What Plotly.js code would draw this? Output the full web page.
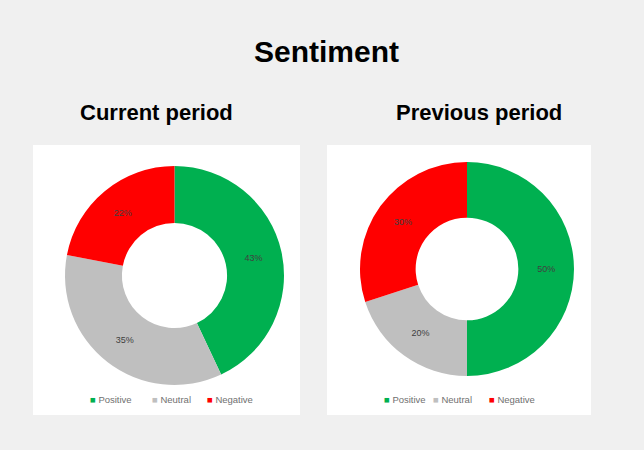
<!DOCTYPE html>
<html>
<head>
<meta charset="utf-8">
<script src="https://cdn.plot.ly/plotly-3.0.1.min.js"></script>
<style>html,body{margin:0;padding:0;background:#f0f0f0;}#chart{width:644px;height:450px;}</style>
</head>
<body>
<div id="chart"></div>
<script>
const labels = ["Positive", "Neutral", "Negative"];
const currentValues = [43, 35, 22];
const previousValues = [50, 20, 30];
const colors = ["#00b050", "#bfbfbf", "#ff0000"];
const mainTitle = "Sentiment";
const panelTitles = ["Current period", "Previous period"];

const W = 644, H = 450;
const px = x => x / W;
const py = y => 1 - y / H;
const FONT = "Liberation Sans, Arial, sans-serif";

function pieTrace(values, dom) {
  return {
    type: "pie",
    labels: labels,
    values: values,
    sort: false,
    direction: "clockwise",
    rotation: 0,
    hole: 0.48,
    marker: {colors: colors, line: {width: 0}},
    textinfo: "percent",
    textposition: "inside",
    insidetextorientation: "horizontal",
    textfont: {size: 9, color: "#404040", family: FONT},
    domain: dom,
    showlegend: false,
    hoverinfo: "label+percent"
  };
}

const data = [
  pieTrace(currentValues, {x: [px(65), px(284)], y: [py(385), py(166)]}),
  pieTrace(previousValues, {x: [px(360), px(574)], y: [py(376), py(162)]})
];

const annotations = [
  {text: "<b>" + mainTitle + "</b>", x: px(326), y: py(52), xref: "paper", yref: "paper", showarrow: false, xanchor: "center", yanchor: "middle", font: {size: 30, color: "#000000", family: FONT}},
  {text: "<b>" + panelTitles[0] + "</b>", x: px(156), y: py(112), xref: "paper", yref: "paper", showarrow: false, xanchor: "center", yanchor: "middle", font: {size: 22, color: "#000000", family: FONT}},
  {text: "<b>" + panelTitles[1] + "</b>", x: px(479), y: py(112), xref: "paper", yref: "paper", showarrow: false, xanchor: "center", yanchor: "middle", font: {size: 22, color: "#000000", family: FONT}}
];

// custom legends (one per panel), built from labels/colors
const legendStarts = [[88, 150, 205], [382, 431, 487]];
legendStarts.forEach(starts => {
  labels.forEach((lab, i) => {
    annotations.push({
      text: "<span style='color:" + colors[i] + "'>■</span> " + lab,
      x: px(starts[i]), y: py(399), xref: "paper", yref: "paper",
      showarrow: false, xanchor: "left", yanchor: "middle",
      font: {size: 9.5, color: "#707070", family: FONT}
    });
  });
});

const layout = {
  width: W,
  height: H,
  margin: {l: 0, r: 0, t: 0, b: 0},
  paper_bgcolor: "#f0f0f0",
  plot_bgcolor: "#f0f0f0",
  showlegend: false,
  shapes: [
    {type: "rect", xref: "paper", yref: "paper", x0: px(33), x1: px(300), y0: py(415), y1: py(145), fillcolor: "#ffffff", line: {width: 0}, layer: "below"},
    {type: "rect", xref: "paper", yref: "paper", x0: px(327), x1: px(591), y0: py(415), y1: py(145), fillcolor: "#ffffff", line: {width: 0}, layer: "below"}
  ],
  annotations: annotations
};

Plotly.newPlot("chart", data, layout, {displayModeBar: false, staticPlot: true});
</script>
</body>
</html>
